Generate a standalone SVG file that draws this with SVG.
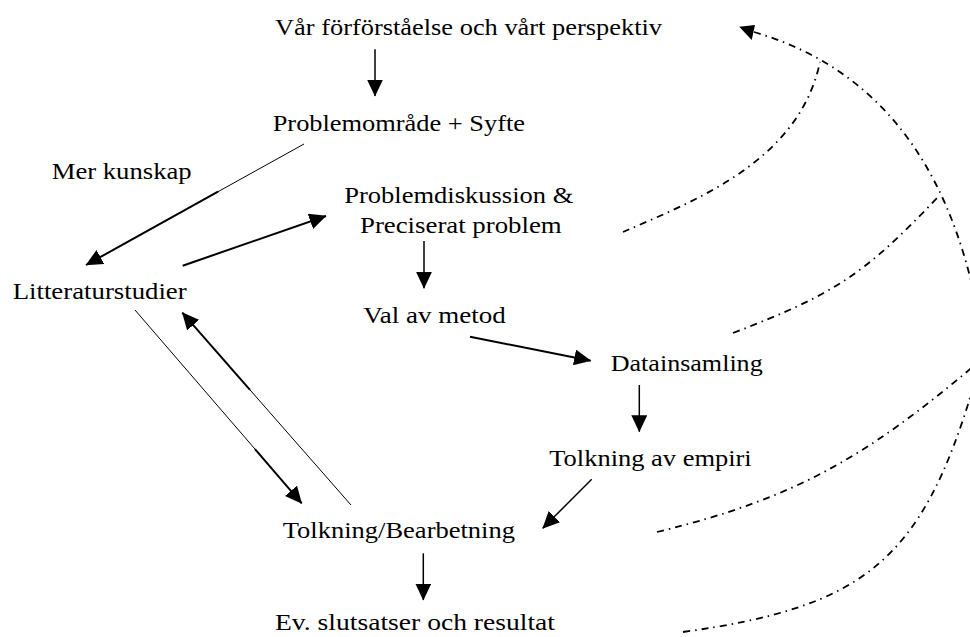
<svg xmlns="http://www.w3.org/2000/svg" width="970" height="637" viewBox="0 0 970 637">
  <style>
    .lbl { font-family: 'Liberation Serif', 'Times New Roman', serif; font-size: 24px; fill: #000; }
    .ln { stroke: #000; fill: none; stroke-width: 1.5; }
    .thin { stroke: #000; fill: none; stroke-width: 1; }
    .thick { stroke: #000; fill: none; stroke-width: 2; }
    .dd { stroke: #000; fill: none; stroke-width: 1.8; stroke-dasharray: 7 5 1.5 5; }
  </style>
  <defs>
    <marker id="ah" markerUnits="userSpaceOnUse" viewBox="0 0 17 16" markerWidth="17" markerHeight="16" refX="16.5" refY="8" orient="auto">
      <path d="M0,0 L17,8 L0,16 z" fill="#000"/>
    </marker>
  </defs>
  <rect width="970" height="637" fill="#fff"/>

  <!-- process steps -->
  <g class="lbl">
    <g id="perspektiv">
      <text x="275" y="35" textLength="387" lengthAdjust="spacingAndGlyphs">Vår förförståelse och vårt perspektiv</text>
    </g>
    <g id="problemomrade">
      <text x="272.7" y="131" textLength="252.3" lengthAdjust="spacingAndGlyphs">Problemområde + Syfte</text>
    </g>
    <g id="mer-kunskap">
      <text x="51.7" y="179.3" textLength="140" lengthAdjust="spacingAndGlyphs">Mer kunskap</text>
    </g>
    <g id="litteraturstudier">
      <text x="12.7" y="299.3" textLength="174" lengthAdjust="spacingAndGlyphs">Litteraturstudier</text>
    </g>
    <g id="problemdiskussion">
      <text x="344.3" y="203.3" textLength="229" lengthAdjust="spacingAndGlyphs">Problemdiskussion &amp;</text>
      <text x="360" y="233.3" textLength="201.7" lengthAdjust="spacingAndGlyphs">Preciserat problem</text>
    </g>
    <g id="val-av-metod">
      <text x="363.3" y="322.7" textLength="142.4" lengthAdjust="spacingAndGlyphs">Val av metod</text>
    </g>
    <g id="datainsamling">
      <text x="610.7" y="370.7" textLength="152" lengthAdjust="spacingAndGlyphs">Datainsamling</text>
    </g>
    <g id="tolkning-empiri">
      <text x="549.3" y="465.7" textLength="202.4" lengthAdjust="spacingAndGlyphs">Tolkning av empiri</text>
    </g>
    <g id="tolkning-bearbetning">
      <text x="282.7" y="538.3" textLength="232.3" lengthAdjust="spacingAndGlyphs">Tolkning/Bearbetning</text>
    </g>
    <g id="slutsatser">
      <text x="275" y="630" textLength="280" lengthAdjust="spacingAndGlyphs">Ev. slutsatser och resultat</text>
    </g>
  </g>

  <!-- connectors -->
  <g id="connectors">
    <line class="ln" x1="375" y1="49.3" x2="375" y2="96" marker-end="url(#ah)"/>

    <line class="thin" x1="304" y1="144" x2="200" y2="201.7"/>
    <line class="thick" x1="218" y1="191.7" x2="86" y2="265" marker-end="url(#ah)"/>

    <line class="thick" x1="182.7" y1="265.7" x2="326" y2="216" marker-end="url(#ah)"/>
    <line class="ln" x1="424" y1="241" x2="424" y2="288.3" marker-end="url(#ah)"/>
    <line class="thick" x1="470" y1="336.7" x2="590.7" y2="360.7" marker-end="url(#ah)"/>
    <line class="ln" x1="639.3" y1="385" x2="639.3" y2="431.7" marker-end="url(#ah)"/>
    <line class="ln" x1="591.7" y1="479.3" x2="542.7" y2="528.3" marker-end="url(#ah)"/>
    <line class="ln" x1="423.3" y1="553.3" x2="423.3" y2="600" marker-end="url(#ah)"/>

    <line class="thin" x1="135" y1="310" x2="265" y2="460.7"/>
    <line class="thick" x1="255" y1="449.2" x2="301.7" y2="503.3" marker-end="url(#ah)"/>

    <line class="thin" x1="351" y1="505" x2="240" y2="378.5"/>
    <line class="thick" x1="250" y1="389.9" x2="182.3" y2="312.7" marker-end="url(#ah)"/>

    <!-- feedback loops back to the starting perspective -->
    <path class="dd" d="M754,32 C850,60 935,130 972,285"/>
    <polygon points="739.3,26.7 755,25 751.7,40" fill="#000"/>
    <path class="dd" d="M623,232 C700,198.6 799,160 820,62"/>
    <path class="dd" d="M733,333 C834,294 863,276 938,197"/>
    <path class="dd" d="M657,532 C797,498 867,456 975,365"/>
    <path class="dd" d="M683,632 C862,607 921,563 973,388"/>
  </g>
</svg>
